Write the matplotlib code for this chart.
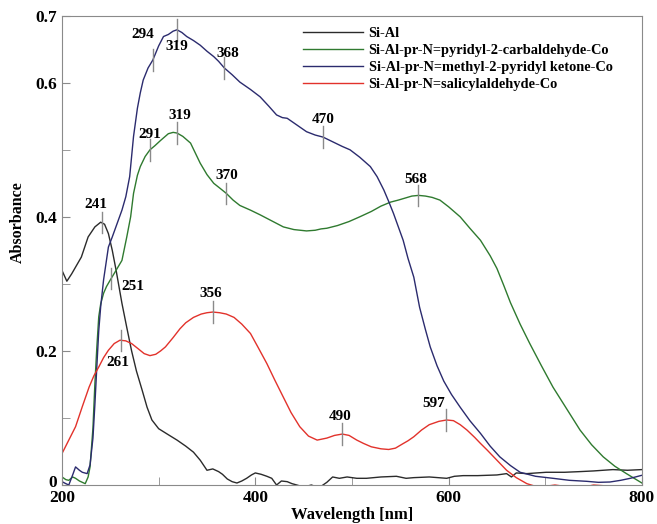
import numpy as np
import matplotlib
matplotlib.use('Agg')
import matplotlib.pyplot as plt
import matplotlib.transforms as mtransforms
from matplotlib.ticker import MultipleLocator

plt.rcParams['font.family'] = 'Liberation Serif'
plt.rcParams['font.weight'] = 'bold'

# UV-Vis spectra, wavelength [nm] vs absorbance
wl_sial = [200, 205, 210, 214, 220, 227, 234, 240, 244, 248, 252, 256, 262, 267, 272,
           277, 283, 288, 293, 300, 310, 319, 328, 336, 343, 350, 356, 362, 366, 371,
           376, 381, 386, 391, 396, 400, 406, 412, 417, 422, 427, 433, 438, 443, 450,
           458, 466, 474, 480, 487, 495, 505, 515, 530, 546, 556, 564, 580, 598, 606,
           615, 630, 650, 660, 665, 670, 681, 701, 720, 736, 750, 770, 785, 800]
abs_sial = [0.320, 0.304, 0.315, 0.325, 0.340, 0.370, 0.385, 0.392, 0.389, 0.375, 0.350,
            0.320, 0.271, 0.235, 0.200, 0.170, 0.141, 0.116, 0.097, 0.084, 0.075, 0.067,
            0.058, 0.049, 0.037, 0.022, 0.024, 0.020, 0.016, 0.009, 0.005, 0.003, 0.006,
            0.010, 0.015, 0.018, 0.016, 0.013, 0.010, 0.000, 0.006, 0.005, 0.002, 0.000,
            -0.003, 0.000, -0.004, 0.004, 0.012, 0.010, 0.012, 0.010, 0.010, 0.012, 0.013,
            0.010, 0.011, 0.012, 0.010, 0.013, 0.014, 0.014, 0.015, 0.017, 0.012, 0.018,
            0.017, 0.019, 0.019, 0.020, 0.021, 0.023, 0.022, 0.023]

wl_carb = [200, 204, 207, 211, 214, 218, 221, 224, 227, 229, 232, 234, 236, 238, 240,
           243, 246, 250, 255, 262, 267, 271, 274, 278, 281, 286, 291, 296, 302, 310,
           315, 319, 325, 333, 338, 343, 350, 357, 364, 370, 377, 384, 395, 405, 417,
           429, 440, 453, 462, 468, 474, 485, 497, 508, 520, 530, 540, 548, 555, 562,
           569, 576, 583, 591, 600, 612, 622, 633, 643, 650, 657, 664, 674, 684, 696,
           708, 722, 736, 748, 760, 772, 784, 792, 800]
abs_carb = [0.012, 0.008, 0.007, 0.012, 0.010, 0.006, 0.004, 0.002, 0.012, 0.027, 0.085,
            0.151, 0.205, 0.251, 0.270, 0.286, 0.296, 0.306, 0.318, 0.335, 0.370, 0.400,
            0.435, 0.462, 0.475, 0.490, 0.500, 0.506, 0.514, 0.524, 0.526, 0.525, 0.520,
            0.510, 0.495, 0.480, 0.463, 0.450, 0.442, 0.435, 0.425, 0.417, 0.410, 0.403,
            0.394, 0.385, 0.381, 0.379, 0.380, 0.382, 0.383, 0.387, 0.393, 0.400, 0.408,
            0.416, 0.422, 0.425, 0.428, 0.431, 0.432, 0.431, 0.429, 0.425, 0.415, 0.400,
            0.383, 0.365, 0.342, 0.323, 0.298, 0.272, 0.240, 0.211, 0.178, 0.146, 0.114,
            0.082, 0.060, 0.042, 0.028, 0.017, 0.010, 0.003]

wl_ket = [200, 204, 207, 211, 214, 218, 221, 226, 229, 232, 234, 236, 238, 240, 243,
          248, 252, 257, 262, 266, 270, 274, 278, 281, 284, 289, 294, 300, 305, 310,
          315, 319, 324, 329, 336, 343, 350, 357, 362, 368, 376, 384, 395, 405, 414,
          422, 428, 433, 443, 453, 462, 470, 480, 490, 498, 508, 519, 526, 533, 538,
          543, 548, 553, 558, 564, 570, 576, 581, 588, 595, 603, 612, 622, 633, 643,
          653, 664, 674, 690, 708, 725, 743, 755, 767, 778, 788, 800]
abs_ket = [0.005, 0.002, 0.000, 0.015, 0.027, 0.022, 0.019, 0.017, 0.030, 0.070, 0.120,
           0.176, 0.230, 0.266, 0.306, 0.355, 0.370, 0.390, 0.410, 0.430, 0.460, 0.520,
           0.562, 0.585, 0.604, 0.622, 0.634, 0.655, 0.669, 0.672, 0.677, 0.679, 0.675,
           0.669, 0.663, 0.656, 0.647, 0.639, 0.632, 0.622, 0.612, 0.601, 0.590, 0.579,
           0.565, 0.552, 0.548, 0.547, 0.537, 0.527, 0.522, 0.519, 0.512, 0.505, 0.500,
           0.489, 0.475, 0.460, 0.440, 0.423, 0.405, 0.385, 0.365, 0.338, 0.310, 0.265,
           0.232, 0.206, 0.178, 0.155, 0.135, 0.116, 0.096, 0.077, 0.058, 0.042, 0.029,
           0.019, 0.013, 0.010, 0.007, 0.0055, 0.004, 0.0045, 0.007, 0.010, 0.0145]

wl_sal = [200, 207, 214, 221, 228, 233, 238, 243, 248, 254, 260, 266, 272, 279, 285,
          291, 297, 302, 307, 315, 322, 328, 336, 344, 350, 356, 363, 370, 378, 386,
          395, 403, 412, 420, 429, 437, 446, 455, 464, 474, 482, 490, 497, 505, 512,
          520, 530, 538, 545, 552, 558, 564, 572, 580, 590, 598, 605, 612, 619, 627,
          633, 640, 650, 660, 670, 681, 690, 700, 710, 720, 730, 740, 750, 760, 765]
abs_sal = [0.047, 0.067, 0.087, 0.117, 0.146, 0.163, 0.176, 0.190, 0.201, 0.211, 0.216,
           0.215, 0.211, 0.203, 0.196, 0.193, 0.195, 0.200, 0.206, 0.220, 0.233, 0.242,
           0.250, 0.255, 0.257, 0.258, 0.257, 0.255, 0.250, 0.240, 0.226, 0.205, 0.181,
           0.157, 0.131, 0.108, 0.087, 0.073, 0.067, 0.070, 0.074, 0.076, 0.074, 0.067,
           0.062, 0.057, 0.054, 0.053, 0.055, 0.061, 0.066, 0.072, 0.082, 0.090, 0.095,
           0.097, 0.096, 0.090, 0.082, 0.071, 0.062, 0.052, 0.037, 0.022, 0.011, 0.002,
           -0.002, -0.002, 0.000, -0.002, -0.001, -0.003, 0.000, -0.001, -0.002]

# peak positions marked on each spectrum
peaks_sial = [241]
peaks_carb = [251, 291, 319, 370, 568]
peaks_ket = [294, 319, 368, 470]
peaks_sal = [261, 356, 490, 597]

labels = ['Si-Al',
          'Si-Al-pr-N=pyridyl-2-carbaldehyde-Co',
          'Si-Al-pr-N=methyl-2-pyridyl ketone-Co',
          'Si-Al-pr-N=salicylaldehyde-Co']

c_sial = '#2b2b2b'
c_carb = '#2f7a2f'
c_ket = '#2b2b6e'
c_sal = '#e2322b'

fig = plt.figure(figsize=(6.57, 5.24), dpi=100)
ax = fig.add_axes([0.0944, 0.0744, 0.8826, 0.8956])

ax.plot(wl_sial, abs_sial, color=c_sial, lw=1.0, label=labels[0])
ax.plot(wl_carb, abs_carb, color=c_carb, lw=1.0, label=labels[1])
ax.plot(wl_ket, abs_ket, color=c_ket, lw=1.0, label=labels[2])
ax.plot(wl_sal, abs_sal, color=c_sal, lw=1.0, label=labels[3])

# label offsets in pixels (dx, dy) for each peak number
offsets = {
    ('sial', 241): (-6, 18),
    ('carb', 251): (22, -8), ('carb', 291): (0, 15), ('carb', 319): (3, 18),
    ('carb', 370): (0, 18), ('carb', 568): (-2, 16),
    ('ket', 294): (-10, 25), ('ket', 319): (0, -17), ('ket', 368): (3, 15),
    ('ket', 470): (0, 18),
    ('sal', 261): (-3, -22), ('sal', 356): (-2, 19), ('sal', 490): (-2, 18),
    ('sal', 597): (-12, 17),
}
series = {'sial': (wl_sial, abs_sial, peaks_sial),
          'carb': (wl_carb, abs_carb, peaks_carb),
          'ket': (wl_ket, abs_ket, peaks_ket),
          'sal': (wl_sal, abs_sal, peaks_sal)}

for key, (wl, ab, peaks) in series.items():
    for p in peaks:
        y = np.interp(p, wl, ab)
        ax.plot([p, p], [y - 0.016, y + 0.016], color='#8a8a8a', lw=1.0)
        dx, dy = offsets[(key, p)]
        ax.annotate(str(p), (p, y), xytext=(dx, dy), textcoords='offset pixels',
                    ha='center', va='center', fontsize=11, fontweight='bold')

ax.set_xlim(200, 800)
ax.set_ylim(0, 0.7)
ax.set_xticks([200, 400, 600, 800])
ax.xaxis.set_minor_locator(MultipleLocator(100))
ax.set_yticks([0, 0.2, 0.4, 0.6, 0.7])
ax.set_yticklabels(['0', '0.2', '0.4', '0.6', '0.7'])
ax.yaxis.set_minor_locator(MultipleLocator(0.1))
ax.tick_params(which='both', direction='in', color='#8a8a8a', labelsize=12.5)
ax.tick_params(which='major', length=6)
ax.tick_params(which='minor', length=6)
for s in ax.spines.values():
    s.set_color('#8a8a8a')

# lift the "0" a little so it clears the "200" below it
zero_lbl = ax.get_yticklabels()[0]
zero_lbl.set_transform(zero_lbl.get_transform() +
                       mtransforms.ScaledTranslation(0, 4 / 100, fig.dpi_scale_trans))

ax.set_xlabel('Wavelength [nm]', fontsize=12, fontweight='bold')
ax.set_ylabel('Absorbance', fontsize=11.5, fontweight='bold')
ax.xaxis.set_label_coords(0.5, -0.047)
ax.yaxis.set_label_coords(-0.062, 0.56)

ax.legend(loc='upper left', bbox_to_anchor=(0.405, 0.989), frameon=False,
          fontsize=10.4, handlelength=4.15, handletextpad=0.42, labelspacing=0.27,
          borderaxespad=0)

fig.savefig('out.png', dpi=100)
